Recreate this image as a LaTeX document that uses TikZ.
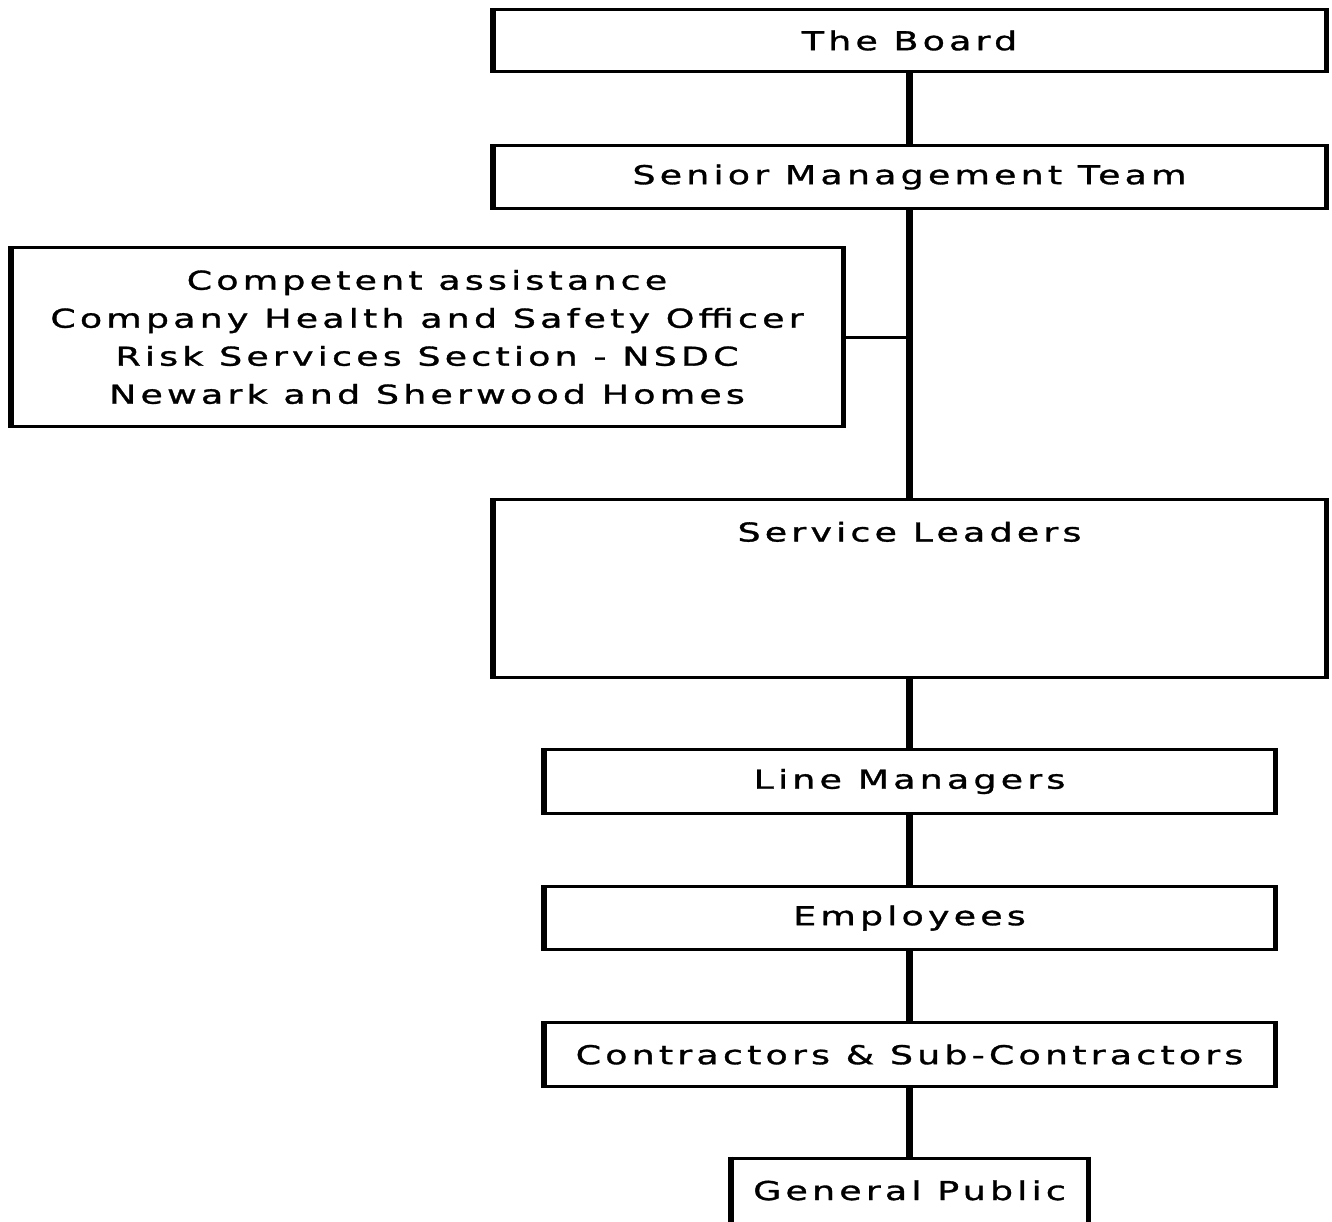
\documentclass[tikz,border=0pt]{standalone}
\usepackage{fontspec}
\setmainfont{DejaVu Sans}[FakeStretch=1.4, LetterSpace=16, FakeBold=1.2]
\usetikzlibrary{calc}

\tikzset{
    orgbox/.style={rectangle, draw=black, line width=3pt, inner sep=0pt, align=center},
    link/.style={line width=7pt}
}

\begin{document}
\begin{tikzpicture}[x=1pt, y=-1pt, font=\fontsize{26}{38}\selectfont]
    \clip (0,0) rectangle (1332,1221);
    \fill[white] (0,0) rectangle (1332,1221);
    \node (board) [orgbox, minimum width=831pt, minimum height=62pt] at (909.5,40.5) {The Board};
    \node (smt) [orgbox, minimum width=831pt, minimum height=63pt] at (909.5,177) {Senior Management Team};
    \node (comp) [orgbox, minimum width=830pt, minimum height=179pt] at (427,337) {Competent assistance\\
         Company Health and Safety Officer\\
         Risk Services Section - NSDC\\
         Newark and Sherwood Homes};
    \node (serv) [orgbox, minimum width=831pt, text height=42pt, text depth=136pt] at (909.5,588.5) {Service Leaders};
    \node (line) [orgbox, minimum width=729pt, minimum height=64pt] at (909.5,781.5) {Line Managers};
    \node (emp) [orgbox, minimum width=729pt, minimum height=63pt] at (909.5,918) {Employees};
    \node (cont) [orgbox, minimum width=729pt, minimum height=64pt] at (909.5,1054.5) {Contractors \& Sub-Contractors};
    \node (pub) [orgbox, minimum width=355pt, text height=42pt, text depth=58pt] at (909.5,1208) {General Public};
    % heavier side edges
    \foreach \n in {board,smt,comp,serv,line,emp,cont,pub}
        \draw[line width=5pt] (\n.north west) -- (\n.south west) (\n.north east) -- (\n.south east);
    % connectors
    \draw[link] (board.south) -- (smt.north);
    \draw[link] (smt.south) -- (serv.north);
    \draw[link] (serv.south) -- (line.north);
    \draw[link] (line.south) -- (emp.north);
    \draw[link] (emp.south) -- (cont.north);
    \draw[link] (cont.south) -- (pub.north);
    \draw[line width=3pt] (comp.east) -- (comp.east -| smt.south);
\end{tikzpicture}
\end{document}
